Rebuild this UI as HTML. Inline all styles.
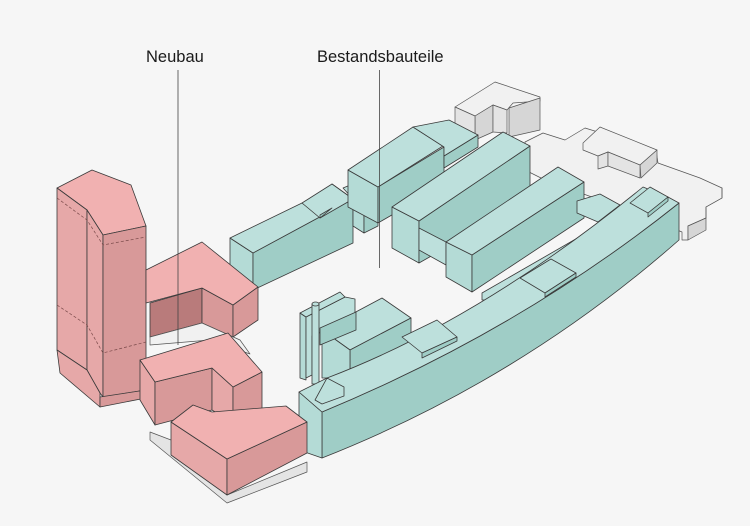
<!DOCTYPE html>
<html><head><meta charset="utf-8"><style>
html,body{margin:0;padding:0;background:#f6f6f6;}
svg{display:block}
text{font-family:"Liberation Sans",sans-serif;font-size:16.5px;fill:#1a1a1a}
.t{fill:#bde0dc}.s{fill:#b4dbd6}.d{fill:#9fcdc6}
.pt{fill:#f1b1b1}.pl{fill:#e6a8a8}.pr{fill:#d89999}.pd{fill:#b97b7b}
.g{fill:#f1f1f1}.gd{fill:#d6d6d6}.gm{fill:#e4e4e4}
polygon,path{stroke:#3a3a3a;stroke-width:0.8;stroke-linejoin:round}
.gs{stroke:#555;stroke-width:0.7}
</style></head><body>
<svg width="750" height="526" viewBox="0 0 750 526" xmlns="http://www.w3.org/2000/svg">
<rect width="750" height="526" fill="#f6f6f6"/>
<!-- gray background buildings -->
<polygon class="g gs" points="525,142 543,133 565,140 585,128 656,150 658,163 700,178 722,188 722,198 706,207 706,218 688,226 688,240 682,240 682,232 640,215 600,200 545,180 525,170"/>
<polygon class="g gs" points="583,143 600,127 657,150 640,165 608,152 598,156 583,150"/>
<polygon class="gd gs" points="640,165 657,150 657,163 641,178"/>
<polygon class="gm gs" points="598,156 608,152 608,166 598,169"/>
<polygon class="gm gs" points="608,152 640,165 640,178 608,166"/>
<polygon class="gd gs" points="706,207 722,198 722,188 722,198 706,207 706,218 688,226 688,240 706,230"/>
<polygon class="g gs" points="455,107 495,82 540,97 540,101 513,103 507,110 493,105 475,116"/>
<polygon class="gd gs" points="475,116 493,105 493,132 475,140"/>
<polygon class="gm gs" points="493,105 507,110 507,133 493,132"/>
<polygon class="gd gs" points="509,108 540,98 540,130 509,137"/>
<polygon class="gm gs" points="455,107 475,116 475,140 455,130"/>
<!-- teal: left block A -->
<polygon class="s" points="230,238 253,253 253,290 230,275"/>
<polygon class="d" points="253,253 353,199 353,243 253,290"/>
<polygon class="t" points="230,238 302,203 320,215 332,208 332,184 353,199 253,253"/>
<polygon class="t" points="302,203 332,184 353,199 320,218"/>
<polygon class="d" points="320,215 332,208 320,218"/>
<!-- block B -->
<polygon class="s" points="353,199 364,206 364,233 353,226"/>
<polygon class="d" points="364,206 378,198 378,226 364,233"/>
<polygon class="t" points="343,188 355,183 378,197 364,206 353,199"/>
<!-- block C -->
<polygon class="s" points="348,170 378,187 378,223 348,207"/>
<polygon class="d" points="378,187 444,147 444,185 378,223"/>
<polygon class="d" points="444,156 478,135 478,147 444,168"/>
<polygon class="t" points="348,170 413,127 443,146 378,187"/>
<polygon class="t" points="413,127 449,120 478,135 444,156 444,147"/>
<!-- block D -->
<polygon class="s" points="392,207 419,221 419,263 392,248"/>
<polygon class="d" points="419,221 530,146 530,200 419,263"/>
<polygon class="t" points="392,207 503,132 530,146 419,221"/>
<polygon class="t" points="419,250 446,265 446,242 419,228"/>
<!-- block E -->
<polygon class="s" points="446,242 472,255 472,292 446,277"/>
<polygon class="d" points="472,255 584,182 584,218 472,292"/>
<polygon class="t" points="446,242 558,167 584,182 472,255"/>
<!-- curved block F inner low part -->
<polygon class="t" points="482,293 600,225 620,210 638,205 640,222 505,300 482,300"/>
<polygon class="t" points="577,201 600,194 620,205 598,222 577,213"/>
<!-- block G with tower -->
<polygon class="t" points="322,330 382,298 411,318 350,350"/>
<polygon class="d" points="350,350 411,318 411,345 350,378"/>
<polygon class="s" points="322,330 350,350 350,378 322,378"/>
<polygon class="s" points="300,313 306,317 306,380 300,378"/>
<polygon class="t" points="306,317 345,297 355,299 355,318 312,336 312,375 306,378"/>
<polygon class="t" points="300,313 340,292 345,297 306,317"/>
<polygon class="d" points="320,328 356,312 356,330 320,345"/>
<rect x="312" y="304" width="7" height="80" class="t" stroke="#3a3a3a" stroke-width="0.8"/>
<ellipse cx="315.5" cy="304" rx="3.5" ry="2" class="t" stroke="#3a3a3a" stroke-width="0.8"/>
<!-- curved long block F -->
<path class="d" d="M322,412 Q520,330 679,203 L679,240 Q520,380 322,458 Z"/>
<polygon class="s" points="299,392 322,412 322,458 299,450"/>
<path class="t" d="M299,392 L327,378 Q480,320 643,187 L668,197 L679,203 Q520,330 322,412 Z"/>
<polygon class="t" points="327,378 344,387 344,396 322,404 315,400"/>
<polygon class="t" points="402,337 437,320 457,337 422,353"/>
<polygon class="d" points="422,353 457,337 457,341 422,358"/>
<polygon class="t" points="520,278 551,259 576,273 545,293"/>
<polygon class="d" points="545,293 576,273 576,277 545,297"/>
<polygon class="t" points="630,203 650,187 668,197 648,213"/>
<polygon class="d" points="648,213 668,197 668,201 648,217"/>
<!-- pink tower -->
<polygon class="pt" points="57,188 92,170 131,185 146,226 103,235 87,210"/>
<polygon class="pl" points="57,188 87,210 87,370 57,350"/>
<polygon class="pl" points="87,210 103,235 103,397 100,393 87,370"/>
<polygon class="pr" points="103,235 146,226 146,390 103,397"/>
<polygon class="pl" points="57,350 87,370 100,393 100,407 60,373"/>
<polygon class="pr" points="100,407 100,397 146,390 146,398"/>
<polyline points="57,198 87,220 103,245 146,237" fill="none" stroke="#7a4a4a" stroke-width="0.7" stroke-dasharray="3,2"/>
<polyline points="57,305 87,325 103,353 146,342" fill="none" stroke="#7a4a4a" stroke-width="0.7" stroke-dasharray="3,2"/>
<!-- P2 -->
<polygon class="pd" points="150,303 202,288 202,323 150,337"/>
<polygon class="pr" points="202,288 233,305 233,337 202,323"/>
<polygon class="pr" points="233,305 258,287 258,320 233,337"/>
<polygon class="pt" points="146,270 202,242 258,287 233,305 202,288 146,303"/>
<polygon class="g gs" points="150,337 202,323 240,340 250,354 210,340 150,345"/>
<!-- P3 -->
<polygon class="pl" points="140,360 155,382 155,425 140,400"/>
<polygon class="pr" points="155,382 212,368 212,410 155,425"/>
<polygon class="pl" points="212,368 233,387 233,423 212,410"/>
<polygon class="pr" points="233,387 262,372 262,412 233,423"/>
<polygon class="pt" points="140,360 228,333 262,372 233,387 212,368 155,382"/>
<!-- P4 -->
<polygon class="gm gs" points="150,432 171,440 227,495 307,462 307,472 227,503 150,440"/>
<polygon class="pl" points="171,422 227,459 227,495 171,455"/>
<polygon class="pr" points="227,459 307,422 307,453 227,495"/>
<polygon class="pt" points="171,422 193,405 212,412 286,406 307,422 227,459"/>
<!-- leader lines -->
<line x1="178" y1="70" x2="178" y2="345" stroke="#444" stroke-width="0.8"/>
<line x1="379.5" y1="70" x2="379.5" y2="268" stroke="#444" stroke-width="0.8"/>
<text x="146" y="62">Neubau</text>
<text x="317" y="62">Bestandsbauteile</text>
</svg>
</body></html>
